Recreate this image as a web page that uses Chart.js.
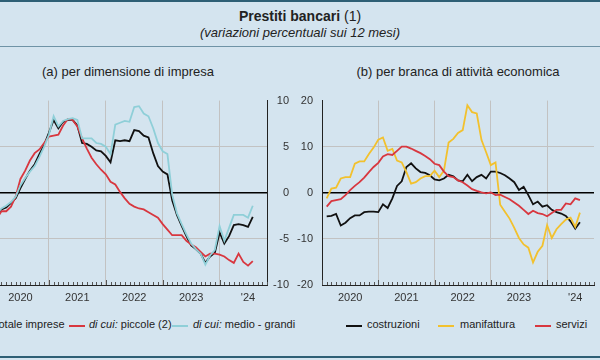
<!DOCTYPE html>
<html>
<head>
<meta charset="utf-8">
<script src="https://cdn.jsdelivr.net/npm/chart.js@4.4.1/dist/chart.umd.min.js"></script>
<style>
  body { margin: 0; width: 600px; height: 360px; overflow: hidden; position: relative;
         background: #d4e4ef; font-family: "Liberation Sans", Arial, sans-serif; color: #222; }
  .rule { position: absolute; left: 0; width: 600px; background: #2e5f75; }
  .title { position: absolute; left: 0; width: 600px; text-align: center; top: 8px; font-size: 14px; }
  .title b { font-weight: bold; }
  .subtitle { position: absolute; left: 0; width: 600px; text-align: center; top: 25px; font-size: 13px; font-style: italic; }
  .panel-title { position: absolute; top: 64px; font-size: 13px; text-align: center; width: 300px; }
  canvas { position: absolute; }
  .leg { position: absolute; top: 318px; font-size: 11px; white-space: nowrap; }
  .leg i { font-style: italic; }
  .sw { position: absolute; top: 325px; height: 2px; width: 16px; }
</style>
</head>
<body>
<div class="rule" style="top:0;height:2px"></div>
<div class="title"><b>Prestiti bancari</b> (1)</div>
<div class="subtitle">(variazioni percentuali sui 12 mesi)</div>
<div class="rule" style="top:46px;height:1px;background:#6f93a6"></div>
<div class="panel-title" style="left:-22px">(a) per dimensione di impresa</div>
<div class="panel-title" style="left:308px">(b) per branca di attività economica</div>

<div style="position:absolute;top:85px;left:-30px;width:330px;height:225px"><canvas id="chartA"></canvas></div>
<div style="position:absolute;top:85px;left:290px;width:310px;height:225px"><canvas id="chartB"></canvas></div>

<div class="sw" style="left:-30px;background:#111"></div>
<div class="leg" style="left:-7px">Totale imprese</div>
<div class="sw" style="left:69px;background:#d8373f"></div>
<div class="leg" style="left:89px"><i>di cui:</i> piccole (2)</div>
<div class="sw" style="left:172px;background:#8fcfd8"></div>
<div class="leg" style="left:193px"><i>di cui:</i> medio - grandi</div>
<div class="sw" style="left:346px;background:#111"></div>
<div class="leg" style="left:367px">costruzioni</div>
<div class="sw" style="left:438px;background:#f2c12e"></div>
<div class="leg" style="left:460px">manifattura</div>
<div class="sw" style="left:535px;background:#d8373f"></div>
<div class="leg" style="left:556px">servizi</div>

<div class="rule" style="top:356px;height:2px"></div>

<script>
// months counted from Jan 2020 = 0; both series start in Feb 2020
const firstMonth = 1;
const xMin = 0, xMax = 58;
const yearLabels = ['2020', '2021', '2022', '2023', "'24"];

// (a) per dimensione di impresa
const totaleImprese = [-2.5,-1.8,-1.6,-1.1,-0.6,0.5,1.5,2.4,3.1,4.2,5.2,6.5,7.9,7.0,7.7,7.9,7.9,7.3,5.4,5.3,
  5.0,4.6,4.5,4.0,3.3,5.7,5.6,5.7,5.6,6.8,6.7,6.2,6.0,4.3,2.9,2.3,2.0,-0.8,-2.4,-3.6,
  -4.7,-5.7,-6.1,-6.6,-7.6,-6.9,-6.5,-4.3,-5.5,-4.7,-3.5,-3.4,-3.5,-3.7,-2.6];
const piccole = [-2.8,-2.0,-2.0,-1.5,-0.4,1.5,2.4,3.5,4.3,4.7,5.4,6.1,6.2,6.3,7.3,8.0,7.9,7.2,5.9,4.8,
  3.8,3.1,2.5,2.0,1.2,0.9,0.1,-0.6,-1.2,-1.5,-1.7,-1.8,-2.1,-2.4,-2.7,-3.4,-4.0,-4.6,-4.6,-4.6,
  -5.2,-5.6,-5.9,-6.4,-6.9,-6.6,-6.6,-6.7,-6.9,-7.3,-7.6,-6.6,-7.5,-7.9,-7.4];
const medioGrandi = [-2.3,-1.7,-1.4,-1.0,-0.4,0.8,1.6,2.3,2.9,3.9,5.0,6.3,8.3,7.2,7.8,8.0,8.1,7.9,5.9,5.9,
  5.9,5.4,5.3,5.0,4.2,7.4,7.6,7.8,7.7,9.3,9.4,8.6,8.3,7.0,5.4,4.5,4.2,-0.2,-2.2,-3.4,
  -4.5,-5.5,-6.1,-6.6,-7.8,-6.8,-6.2,-3.6,-5.2,-3.8,-2.4,-2.4,-2.4,-2.7,-1.4];

// (b) per branca di attività economica
const costruzioni = [-5.1,-5.0,-4.6,-7.1,-6.5,-5.5,-4.9,-4.9,-4.2,-4.1,-4.1,-4.2,-2.5,-3.3,-1.2,1.5,2.5,5.6,6.4,5.3,
  4.5,4.3,3.8,2.9,2.7,3.1,3.9,3.6,2.7,2.5,3.9,2.5,3.4,3.9,3.1,4.6,4.6,4.3,3.8,3.1,
  2.3,0.6,1.3,-0.5,-2.5,-1.9,-3.0,-2.7,-3.7,-4.2,-4.5,-5.0,-6.2,-7.8,-6.4];
const manifattura = [-1.2,0.9,1.1,3.1,3.4,3.4,6.3,6.8,6.8,8.4,9.8,11.5,12.0,9.1,9.5,7.0,6.6,4.5,2.0,2.3,
  3.1,3.6,3.6,4.8,3.4,4.8,10.9,11.7,13.0,13.6,19.0,17.5,17.2,11.5,8.8,6.0,6.6,-2.6,-4.1,-5.6,
  -7.6,-9.8,-11.2,-11.9,-15.1,-12.8,-11.5,-7.0,-9.8,-7.9,-6.8,-5.8,-5.4,-7.4,-4.3];
const servizi = [-3.0,-1.8,-1.6,-1.4,-0.5,0.6,1.5,2.3,3.3,4.5,5.6,6.5,7.9,8.4,8.2,9.1,10.0,10.0,9.6,9.1,
  8.6,8.0,7.3,6.3,6.0,4.6,3.6,3.4,2.7,2.3,1.6,0.8,0.4,0.1,-0.1,0.1,-0.5,-0.4,-0.9,-1.4,
  -2.1,-2.8,-3.7,-4.6,-3.9,-4.4,-4.6,-5.1,-4.4,-3.7,-3.7,-2.3,-2.5,-1.2,-1.6];

const BLACK = '#111111', RED = '#d8373f', CYAN = '#8fcfd8', YELLOW = '#f2c12e';
const GRID = '#c2c2c2';

function points(values) {
  return values.map((v, i) => ({ x: firstMonth + i, y: v }));
}

function line(label, values, color) {
  return { label, data: points(values), borderColor: color, borderWidth: 1.8,
           pointRadius: 0, tension: 0, fill: false };
}

// small monthly ticks pointing up from the x axis
const monthTicks = {
  id: 'monthTicks',
  afterDatasetsDraw(chart) {
    const { ctx, chartArea, scales: { x } } = chart;
    ctx.save();
    ctx.strokeStyle = '#555';
    ctx.lineWidth = 1;
    for (let m = xMin; m <= xMax; m++) {
      const px = Math.round(x.getPixelForValue(m)) + 0.5;
      const len = m % 12 === 0 ? 5 : 3;
      ctx.beginPath();
      ctx.moveTo(px, chartArea.bottom);
      ctx.lineTo(px, chartArea.bottom - len);
      ctx.stroke();
    }
    ctx.restore();
  }
};

function makeChart(id, datasets, yMin, yMax, yStep, yPos, padding, yWidth) {
  return new Chart(document.getElementById(id), {
    type: 'line',
    data: { datasets },
    options: {
      responsive: true, maintainAspectRatio: false, animation: false,
      layout: { padding },
      plugins: { legend: { display: false }, tooltip: { enabled: false } },
      scales: {
        x: {
          type: 'linear', min: xMin, max: xMax,
          afterBuildTicks: s => {
            const t = [];
            for (let m = xMin; m <= xMax; m++) t.push({ value: m });
            s.ticks = t;
          },
          afterFit: s => { s.height = 25; },
          grid: {
            drawTicks: false,
            color: c => (c.tick && c.tick.value % 12 === 0 && c.tick.value !== xMin) ? GRID : 'rgba(0,0,0,0)'
          },
          border: { display: true, color: '#222', width: 1 },
          ticks: {
            autoSkip: false, maxRotation: 0, padding: 6,
            color: '#333', font: { family: 'Liberation Sans', size: 11 },
            callback: v => (v % 12 === 6 ? yearLabels[(v - 6) / 12] : '')
          }
        },
        y: {
          position: yPos, min: yMin, max: yMax,
          afterFit: s => { s.width = yWidth; },
          grid: {
            drawTicks: false,
            color: c => c.tick.value === 0 ? '#000' : (c.tick.value === yMax ? 'rgba(0,0,0,0)' : GRID),
            lineWidth: c => c.tick.value === 0 ? 1.5 : 1
          },
          border: { display: true, color: '#222', width: 1 },
          ticks: {
            stepSize: yStep, padding: 9, crossAlign: yPos === 'right' ? 'far' : 'near',
            color: '#333', font: { family: 'Liberation Sans', size: 11 }
          }
        }
      }
    },
    plugins: [monthTicks]
  });
}

makeChart('chartA', [
  line('di cui: medio - grandi', medioGrandi, CYAN),
  line('di cui: piccole (2)', piccole, RED),
  line('Totale imprese', totaleImprese, BLACK)
], -10, 10, 5, 'right', { left: 22, right: 11, top: 11, bottom: 0 }, 22);

makeChart('chartB', [
  line('servizi', servizi, RED),
  line('manifattura', manifattura, YELLOW),
  line('costruzioni', costruzioni, BLACK)
], -20, 20, 10, 'left', { left: 0, right: 2, top: 11, bottom: 0 }, 32);
</script>
</body>
</html>
